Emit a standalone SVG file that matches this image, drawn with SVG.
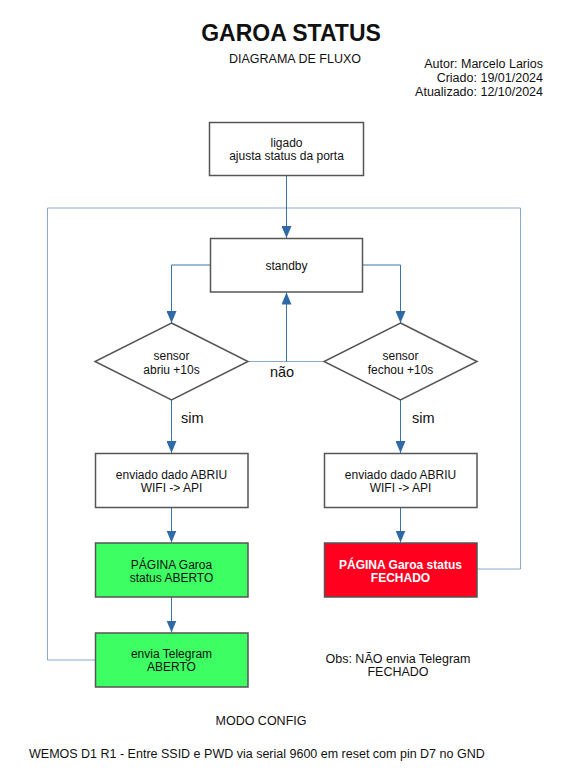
<svg xmlns="http://www.w3.org/2000/svg" width="576" height="778" viewBox="0 0 576 778">
<defs>
<marker id="arr" markerUnits="userSpaceOnUse" markerWidth="12" markerHeight="10" viewBox="0 0 12 10" refX="12" refY="5" orient="auto">
<path d="M0,0 L12,5 L0,10 z" fill="#2f6aa8"/>
</marker>
</defs>
<style>
text{font-family:"Liberation Sans",Arial,sans-serif;fill:#111;}
.n{font-size:12px;text-anchor:middle;}
.box{fill:#fff;stroke:#555;stroke-width:1.5;}
.g{fill:#3dff64;}
.r{fill:#ff001f;}
.w{fill:#fff;font-weight:bold;}
.c{fill:none;stroke:#3a72ad;stroke-width:1;}
.l{fill:none;stroke:#3a72ad;stroke-width:1;opacity:0.6;}
.lab{font-size:14.5px;}
</style>
<rect width="576" height="778" fill="#fff"/>
<text x="291" y="41" font-size="23" font-weight="bold" text-anchor="middle">GAROA STATUS</text>
<text x="295" y="63" font-size="12.5" text-anchor="middle">DIAGRAMA DE FLUXO</text>
<g font-size="12.5" text-anchor="end">
<text x="543" y="68" font-size="12.5" text-anchor="end">Autor: Marcelo Larios</text>
<text x="543" y="82" font-size="12.5" text-anchor="end">Criado: 19/01/2024</text>
<text x="543" y="96" font-size="12.5" text-anchor="end">Atualizado: 12/10/2024</text>
</g>
<g id="connectors">
<path class="l" d="M95,660 L47.5,660 L47.5,208 L286.5,208"/>
<path class="l" d="M477.5,569 L520.5,569 L520.5,208 L286.5,208"/>
<path class="c" d="M286.5,176 L286.5,238" marker-end="url(#arr)"/>
<path class="c" d="M210,265 L171.5,265 L171.5,323" marker-end="url(#arr)"/>
<path class="c" d="M363,265 L400.5,265 L400.5,323" marker-end="url(#arr)"/>
<path class="l" d="M248,361.5 L324,361.5"/>
<path class="c" d="M286.5,361.5 L286.5,292.5" marker-end="url(#arr)"/>
<path class="c" d="M171.5,400 L171.5,453" marker-end="url(#arr)"/>
<path class="c" d="M400.5,400 L400.5,453" marker-end="url(#arr)"/>
<path class="c" d="M171.5,507.5 L171.5,542.5" marker-end="url(#arr)"/>
<path class="c" d="M400.5,507.5 L400.5,542.5" marker-end="url(#arr)"/>
<path class="c" d="M171.5,597 L171.5,632.5" marker-end="url(#arr)"/>
<text class="lab" x="282" y="376.5" text-anchor="middle">não</text>
<text class="lab" x="181" y="422.5">sim</text>
<text class="lab" x="412" y="422.5">sim</text>
</g>
<g id="ligado">
<rect class="box" x="209.5" y="122.5" width="154" height="53"/>
<text class="n" x="286.5" y="146.5">ligado</text>
<text class="n" x="286.5" y="159.5">ajusta status da porta</text>
</g>
<g id="standby">
<rect class="box" x="210.5" y="238.5" width="152" height="53.5"/>
<text class="n" x="286.5" y="270">standby</text>
</g>
<g id="sensor-abriu">
<polygon class="box" points="171.5,323 248,361.5 171.5,400 95,361.5"/>
<text class="n" x="171.5" y="360">sensor</text>
<text class="n" x="171.5" y="373.5">abriu +10s</text>
</g>
<g id="sensor-fechou">
<polygon class="box" points="400.5,323 477,361.5 400.5,400 324,361.5"/>
<text class="n" x="400.5" y="360">sensor</text>
<text class="n" x="400.5" y="373.5">fechou +10s</text>
</g>
<g id="enviado-abriu">
<rect class="box" x="95.5" y="453.5" width="152.5" height="54"/>
<text class="n" x="171.5" y="478.5">enviado dado ABRIU</text>
<text class="n" x="171.5" y="491.5">WIFI -&gt; API</text>
</g>
<g id="enviado-fechou">
<rect class="box" x="324.5" y="453.5" width="152.5" height="54"/>
<text class="n" x="400.5" y="478.5">enviado dado ABRIU</text>
<text class="n" x="400.5" y="491.5">WIFI -&gt; API</text>
</g>
<g id="pagina-aberto">
<rect class="box g" x="95.5" y="543" width="152.5" height="54"/>
<text class="n" x="171.5" y="568.5">PÁGINA Garoa</text>
<text class="n" x="171.5" y="581.5">status ABERTO</text>
</g>
<g id="pagina-fechado">
<rect class="box r" x="324.5" y="543" width="152.5" height="54"/>
<text class="n w" x="400.5" y="568.5">PÁGINA Garoa status</text>
<text class="n w" x="400.5" y="582">FECHADO</text>
</g>
<g id="telegram">
<rect class="box g" x="95.5" y="633" width="152.5" height="54"/>
<text class="n" x="171.5" y="657.5">envia Telegram</text>
<text class="n" x="171.5" y="671">ABERTO</text>
</g>
<text x="398" y="662.5" font-size="12.5" text-anchor="middle">Obs: NÃO envia Telegram</text>
<text x="398" y="675.5" font-size="12.5" text-anchor="middle">FECHADO</text>
<text x="261" y="724.5" font-size="12.5" text-anchor="middle">MODO CONFIG</text>
<text x="29" y="757.5" font-size="12.5">WEMOS D1 R1 - Entre SSID e PWD via serial 9600 em reset com pin D7 no GND</text>
</svg>
